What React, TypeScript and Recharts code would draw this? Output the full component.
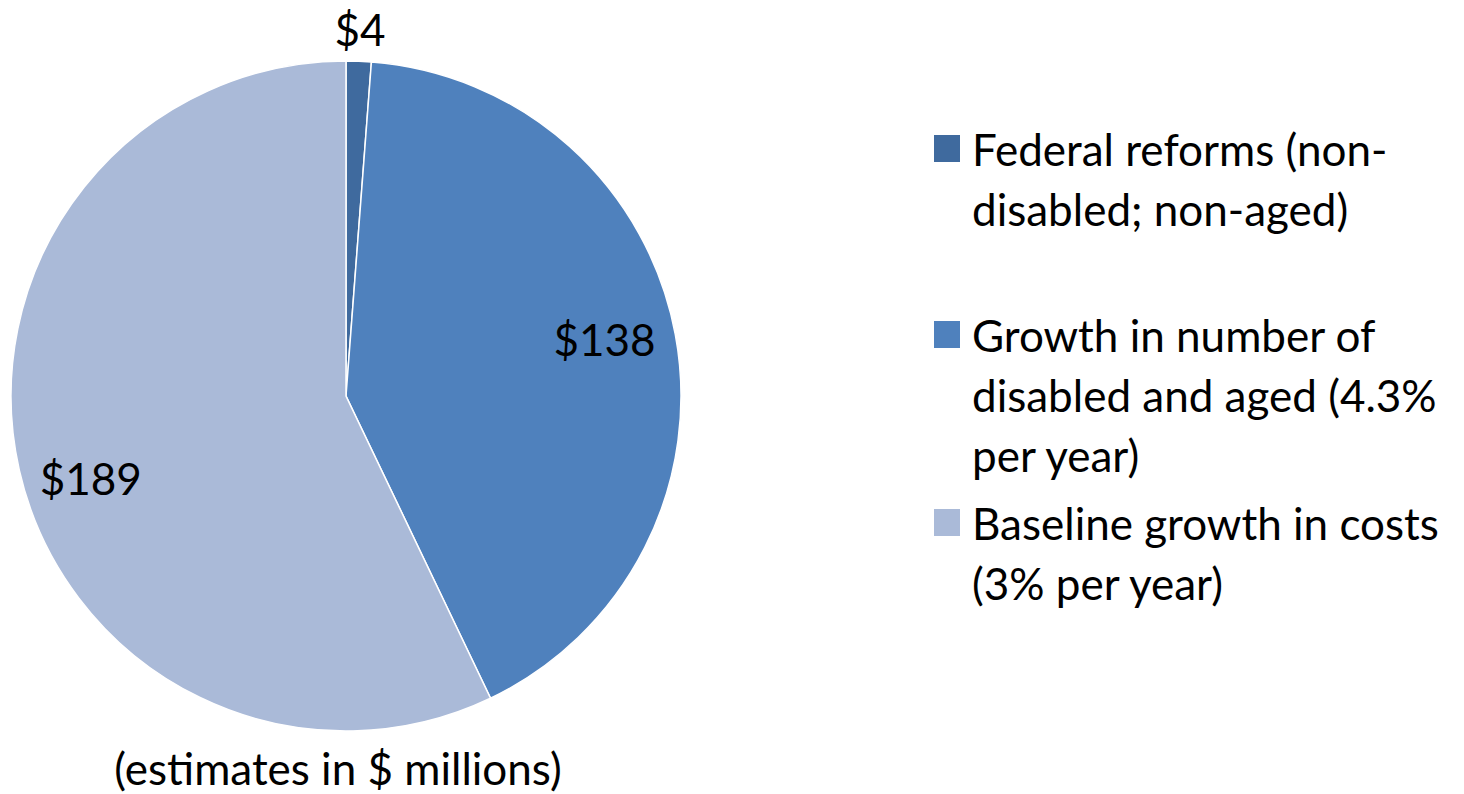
import React from 'react';
import { PieChart, Pie, Cell, Legend } from 'recharts';

const categories = [
  'Federal reforms (non-disabled; non-aged)',
  'Growth in number of disabled and aged (4.3% per year)',
  'Baseline growth in costs (3% per year)',
];
const values = [4, 138, 189];
const colors = ['#3F6A9E', '#4F81BD', '#AABAD8'];
const footnote = '(estimates in $ millions)';

const data = categories.map((name, i) => ({ name, value: values[i] }));

const FONT = 'Lato, "Open Sans", sans-serif';
const FS = 44;
const RAD = Math.PI / 180;

const renderLabel = (props: any) => {
  const { cx, cy, midAngle, outerRadius, index, value } = props;
  let r = outerRadius * 0.8;
  let a = midAngle;
  if (index === 0) r = outerRadius + 32;
  if (index === 1) {
    r = outerRadius * 0.79;
    a = midAngle + 1.8;
  }
  if (index === 2) a = midAngle + 5;
  const x = cx + r * Math.cos(a * RAD);
  const y = cy - r * Math.sin(a * RAD);
  return (
    <text x={x} y={y} textAnchor="middle" dominantBaseline="central" fontFamily={FONT} fontSize={FS} fill="#000">
      ${value}
    </text>
  );
};

const renderLegend = () => (
  <div style={{ fontFamily: FONT, fontSize: FS, color: '#000' }}>
    {data.map((d, i) => (
      <div key={d.name} style={{ display: 'flex', alignItems: 'flex-start', marginBottom: i === 0 ? 66 : 8 }}>
        <div style={{ width: 26, height: 27, background: colors[i], marginTop: 16, marginRight: 12, flexShrink: 0 }} />
        <div style={{ width: 480, lineHeight: '60px' }}>{d.name}</div>
      </div>
    ))}
  </div>
);

export default function App() {
  return (
    <div style={{ position: 'absolute', left: 0, top: 0, width: 1464, height: 794, background: '#fff' }}>
      <PieChart width={1464} height={794} margin={{ top: 0, right: 0, bottom: 0, left: 0 }}>
        <Pie
          data={data}
          dataKey="value"
          nameKey="name"
          cx={346}
          cy={396}
          outerRadius={335}
          startAngle={90}
          endAngle={-270}
          stroke="#fff"
          strokeWidth={1.5}
          label={renderLabel}
          labelLine={false}
          isAnimationActive={false}
        >
          {data.map((d, i) => (
            <Cell key={d.name} fill={colors[i]} />
          ))}
        </Pie>
        <Legend
          content={renderLegend}
          wrapperStyle={{ position: 'absolute', left: 934, top: 119, width: 530 }}
        />
        <text x={338} y={768} textAnchor="middle" dominantBaseline="central" fontFamily={FONT} fontSize={FS} fill="#000">
          {footnote}
        </text>
      </PieChart>
    </div>
  );
}
